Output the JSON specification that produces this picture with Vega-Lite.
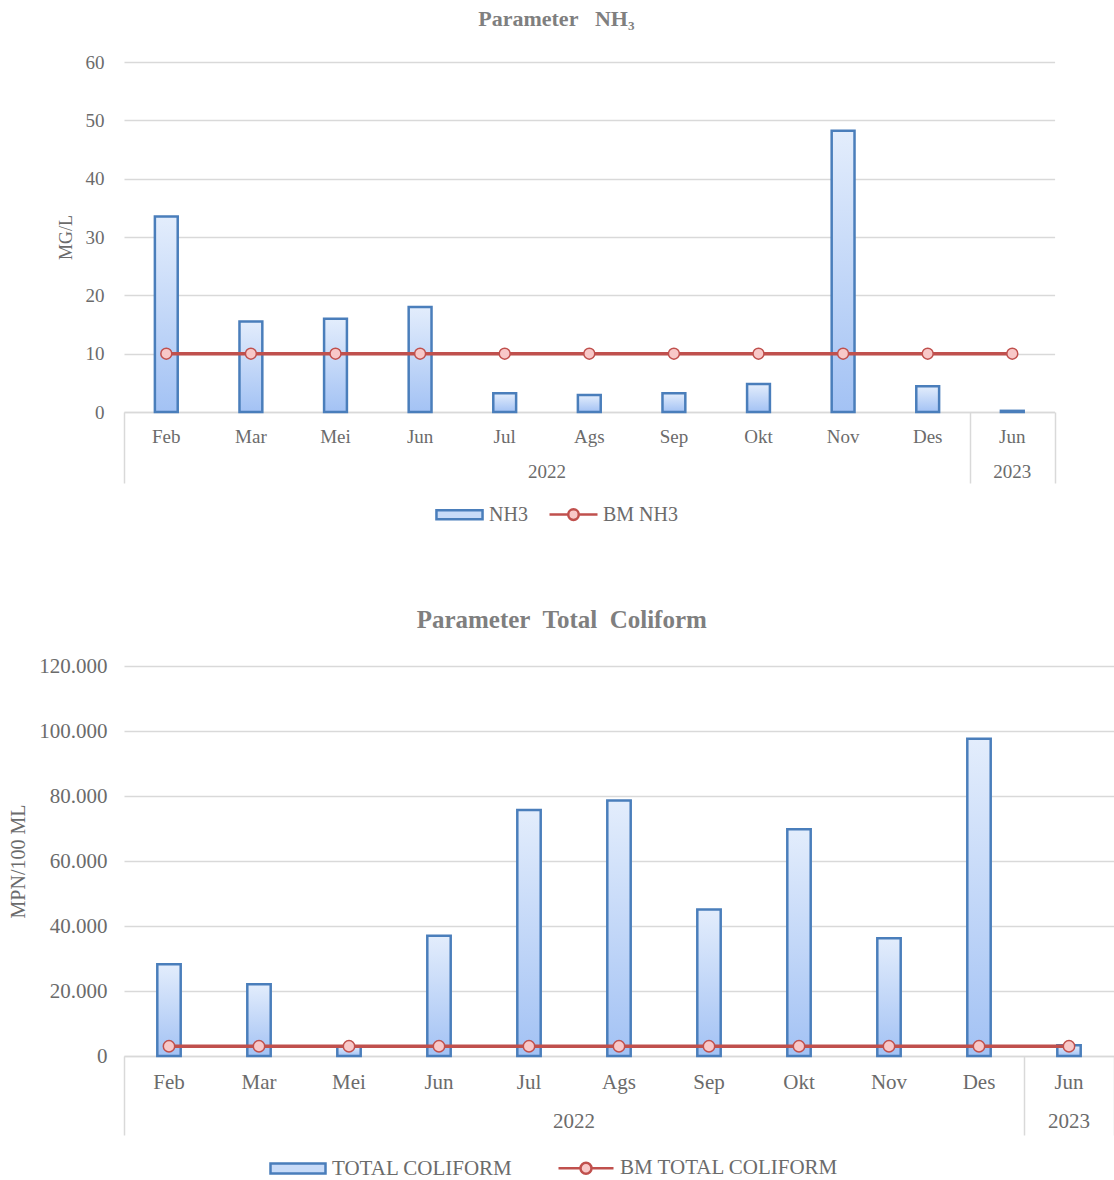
{
  "$schema": "https://vega.github.io/schema/vega-lite/v6.json",
  "background": "white",
  "padding": {"left": 8, "top": 8, "right": 0, "bottom": 0},
  "config": {
    "font": "Liberation Serif",
    "view": {"stroke": null},
    "axis": {
      "labelFont": "Liberation Serif",
      "labelColor": "#6b6b6b",
      "titleFont": "Liberation Serif",
      "titleColor": "#6b6b6b",
      "titleFontWeight": "normal"
    },
    "legend": {
      "labelFont": "Liberation Serif",
      "labelColor": "#6b6b6b",
      "labelLimit": 0,
      "padding": 0
    },
    "title": {
      "font": "Liberation Serif",
      "color": "#7f7f7f",
      "fontWeight": "bold",
      "anchor": "middle",
      "frame": "bounds"
    }
  },
  "datasets": {
    "nh3": [
      {"periode": "Feb 2022", "nilai": 33.5, "baku_mutu": 10},
      {"periode": "Mar 2022", "nilai": 15.5, "baku_mutu": 10},
      {"periode": "Mei 2022", "nilai": 16.0, "baku_mutu": 10},
      {"periode": "Jun 2022", "nilai": 18.0, "baku_mutu": 10},
      {"periode": "Jul 2022", "nilai": 3.2, "baku_mutu": 10},
      {"periode": "Ags 2022", "nilai": 2.9, "baku_mutu": 10},
      {"periode": "Sep 2022", "nilai": 3.2, "baku_mutu": 10},
      {"periode": "Okt 2022", "nilai": 4.8, "baku_mutu": 10},
      {"periode": "Nov 2022", "nilai": 48.2, "baku_mutu": 10},
      {"periode": "Des 2022", "nilai": 4.4, "baku_mutu": 10},
      {"periode": "Jun 2023", "nilai": 0.2, "baku_mutu": 10}
    ],
    "coliform": [
      {"periode": "Feb 2022", "nilai": 28200, "baku_mutu": 3000},
      {"periode": "Mar 2022", "nilai": 22100, "baku_mutu": 3000},
      {"periode": "Mei 2022", "nilai": 3000, "baku_mutu": 3000},
      {"periode": "Jun 2022", "nilai": 37000, "baku_mutu": 3000},
      {"periode": "Jul 2022", "nilai": 75700, "baku_mutu": 3000},
      {"periode": "Ags 2022", "nilai": 78600, "baku_mutu": 3000},
      {"periode": "Sep 2022", "nilai": 45100, "baku_mutu": 3000},
      {"periode": "Okt 2022", "nilai": 69800, "baku_mutu": 3000},
      {"periode": "Nov 2022", "nilai": 36200, "baku_mutu": 3000},
      {"periode": "Des 2022", "nilai": 97600, "baku_mutu": 3000},
      {"periode": "Jun 2023", "nilai": 3300, "baku_mutu": 3000}
    ]
  },
  "vconcat": [
    {
      "data": {"name": "nh3"},
      "title": {"text": "Parameter\u00a0\u00a0 NH₃", "fontSize": 22, "offset": 22},
      "width": {"step": 84.6},
      "height": 350,
      "layer": [
        {
          "mark": {
            "type": "bar",
            "width": {"band": 0.27},
            "strokeWidth": 2.5,
            "fill": {
              "gradient": "linear", "x1": 0, "y1": 0, "x2": 0, "y2": 1,
              "stops": [{"offset": 0, "color": "#e3edfc"}, {"offset": 1, "color": "#a3c2f4"}]
            }
          },
          "encoding": {
            "x": {
              "field": "periode", "type": "nominal", "sort": null,
              "scale": {"paddingInner": 0, "paddingOuter": 0},
              "axis": {
                "orient": "bottom", "title": null, "labelAngle": 0,
                "labelExpr": "split(datum.value, ' ')[0]",
                "ticks": false, "domain": true, "domainColor": "#d9d9d9", "domainWidth": 1.5,
                "labelPadding": 15, "labelFontSize": 19, "grid": false
              }
            },
            "y": {
              "field": "nilai", "type": "quantitative",
              "scale": {"domain": [0, 60], "nice": false},
              "axis": {
                "title": "MG/L", "titleFontSize": 18, "titlePadding": 10,
                "values": [0, 10, 20, 30, 40, 50, 60],
                "domain": false, "ticks": false, "labelPadding": 20, "labelFontSize": 19,
                "grid": true, "gridColor": "#d9d9d9", "gridWidth": 1.5
              }
            },
            "stroke": {
              "datum": "NH3", "type": "nominal",
              "scale": {"domain": ["NH3", "BM NH3"], "range": ["#4a7ebb", "#c0504d"]},
              "legend": {
                "orient": "none", "legendX": 310, "legendY": 427,
                "direction": "horizontal", "title": null,
                "labelFontSize": 20, "symbolSize": 2304, "symbolStrokeWidth": 2.5,
                "labelOffset": 4, "columnPadding": 16,
                "encoding": {
                  "symbols": {
                    "shape": {
                      "condition": {"test": "indexof(datum.value, 'BM') === 0", "value": "M-1,0H-0.22M0.22,0H1M0.22,0A0.22,0.22 0 1 1 -0.22,0A0.22,0.22 0 1 1 0.22,0Z"},
                      "value": "M-0.96,-0.19H0.96V0.19H-0.96Z"
                    },
                    "fill": {
                      "condition": {"test": "indexof(datum.value, 'BM') === 0", "value": "#f8c8c8"},
                      "value": "#c8dbf8"
                    },
                    "strokeWidth": {"value": 2.5}
                  }
                }
              }
            }
          }
        },
        {
          "mark": {"type": "line", "strokeWidth": 3.5},
          "encoding": {
            "x": {
              "field": "periode", "type": "nominal", "sort": null,
              "scale": {"paddingInner": 0, "paddingOuter": 0},
              "axis": {
                "orient": "bottom", "title": null, "labels": false, "domain": false, "grid": false,
                "ticks": true, "tickBand": "extent", "tickSize": 71, "tickColor": "#d9d9d9", "tickWidth": 1.5,
                "tickOpacity": {"condition": {"test": "datum.value == null || datum.value == 'Des 2022' || datum.value == 'Jun 2023'", "value": 1}, "value": 0}
              }
            },
            "y": {
              "field": "baku_mutu", "type": "quantitative",
              "scale": {"domain": [0, 60], "nice": false},
              "axis": {
                "title": "MG/L", "titleFontSize": 18, "titlePadding": 10,
                "values": [0, 10, 20, 30, 40, 50, 60],
                "domain": false, "ticks": false, "labelPadding": 20, "labelFontSize": 19,
                "grid": true, "gridColor": "#d9d9d9", "gridWidth": 1.5
              }
            },
            "stroke": {"datum": "BM NH3", "type": "nominal"}
          }
        },
        {
          "mark": {"type": "point", "filled": true, "fill": "#f8c8c8", "strokeWidth": 1.5, "size": 120, "opacity": 1},
          "encoding": {
            "x": {
              "field": "periode", "type": "nominal", "sort": null,
              "scale": {"paddingInner": 0, "paddingOuter": 0},
              "axis": {
                "orient": "bottom", "title": null, "labelAngle": 0,
                "values": ["Jul 2022", "Jun 2023"],
                "labelExpr": "split(datum.value, ' ')[1]",
                "labelOffset": {"condition": {"test": "datum.value == 'Jul 2022'", "value": 42.3}, "value": 0},
                "ticks": false, "domain": false, "grid": false,
                "labelPadding": 50, "labelFontSize": 19
              }
            },
            "y": {
              "field": "baku_mutu", "type": "quantitative",
              "scale": {"domain": [0, 60], "nice": false},
              "axis": {
                "title": "MG/L", "titleFontSize": 18, "titlePadding": 10,
                "values": [0, 10, 20, 30, 40, 50, 60],
                "domain": false, "ticks": false, "labelPadding": 20, "labelFontSize": 19,
                "grid": true, "gridColor": "#d9d9d9", "gridWidth": 1.5
              }
            },
            "stroke": {"datum": "BM NH3", "type": "nominal"}
          }
        }
      ],
      "resolve": {"axis": {"x": "independent"}}
    },
    {
      "data": {"name": "coliform"},
      "title": {"text": "Parameter\u00a0 Total\u00a0 Coliform", "fontSize": 25, "offset": 22},
      "width": {"step": 90},
      "height": 390,
      "layer": [
        {
          "mark": {
            "type": "bar",
            "width": {"band": 0.26},
            "strokeWidth": 2.5,
            "fill": {
              "gradient": "linear", "x1": 0, "y1": 0, "x2": 0, "y2": 1,
              "stops": [{"offset": 0, "color": "#e3edfc"}, {"offset": 1, "color": "#a3c2f4"}]
            }
          },
          "encoding": {
            "x": {
              "field": "periode", "type": "nominal", "sort": null,
              "scale": {"paddingInner": 0, "paddingOuter": 0},
              "axis": {
                "orient": "bottom", "title": null, "labelAngle": 0,
                "labelExpr": "split(datum.value, ' ')[0]",
                "ticks": false, "domain": true, "domainColor": "#d9d9d9", "domainWidth": 1.5,
                "labelPadding": 15, "labelFontSize": 21, "grid": false
              }
            },
            "y": {
              "field": "nilai", "type": "quantitative",
              "scale": {"domain": [0, 120000], "nice": false},
              "axis": {
                "title": "MPN/100 ML", "titleFontSize": 20, "titlePadding": 10,
                "values": [0, 20000, 40000, 60000, 80000, 100000, 120000],
                "labelExpr": "replace(format(datum.value, ','), ',', '.')",
                "domain": false, "ticks": false, "labelPadding": 17, "labelFontSize": 21,
                "grid": true, "gridColor": "#d9d9d9", "gridWidth": 1.5
              }
            },
            "stroke": {
              "datum": "TOTAL COLIFORM", "type": "nominal",
              "scale": {"domain": ["TOTAL COLIFORM", "BM TOTAL COLIFORM"], "range": ["#4a7ebb", "#c0504d"]},
              "legend": {
                "orient": "none", "legendX": 145, "legendY": 473,
                "direction": "horizontal", "title": null,
                "labelFontSize": 21, "symbolSize": 3025, "symbolStrokeWidth": 2.5,
                "labelOffset": 5, "columnPadding": 40,
                "encoding": {
                  "symbols": {
                    "shape": {
                      "condition": {"test": "indexof(datum.value, 'BM') === 0", "value": "M-1,0H-0.2M0.2,0H1M0.2,0A0.2,0.2 0 1 1 -0.2,0A0.2,0.2 0 1 1 0.2,0Z"},
                      "value": "M-1,-0.18H1V0.18H-1Z"
                    },
                    "fill": {
                      "condition": {"test": "indexof(datum.value, 'BM') === 0", "value": "#f8c8c8"},
                      "value": "#c8dbf8"
                    },
                    "strokeWidth": {"value": 2.5}
                  }
                }
              }
            }
          }
        },
        {
          "mark": {"type": "line", "strokeWidth": 3.5},
          "encoding": {
            "x": {
              "field": "periode", "type": "nominal", "sort": null,
              "scale": {"paddingInner": 0, "paddingOuter": 0},
              "axis": {
                "orient": "bottom", "title": null, "labels": false, "domain": false, "grid": false,
                "ticks": true, "tickBand": "extent", "tickSize": 79, "tickColor": "#d9d9d9", "tickWidth": 1.5,
                "tickOpacity": {"condition": {"test": "datum.value == null || datum.value == 'Des 2022' || datum.value == 'Jun 2023'", "value": 1}, "value": 0}
              }
            },
            "y": {
              "field": "baku_mutu", "type": "quantitative",
              "scale": {"domain": [0, 120000], "nice": false},
              "axis": {
                "title": "MPN/100 ML", "titleFontSize": 20, "titlePadding": 10,
                "values": [0, 20000, 40000, 60000, 80000, 100000, 120000],
                "labelExpr": "replace(format(datum.value, ','), ',', '.')",
                "domain": false, "ticks": false, "labelPadding": 17, "labelFontSize": 21,
                "grid": true, "gridColor": "#d9d9d9", "gridWidth": 1.5
              }
            },
            "stroke": {"datum": "BM TOTAL COLIFORM", "type": "nominal"}
          }
        },
        {
          "mark": {"type": "point", "filled": true, "fill": "#f8c8c8", "strokeWidth": 1.5, "size": 130, "opacity": 1},
          "encoding": {
            "x": {
              "field": "periode", "type": "nominal", "sort": null,
              "scale": {"paddingInner": 0, "paddingOuter": 0},
              "axis": {
                "orient": "bottom", "title": null, "labelAngle": 0,
                "values": ["Jul 2022", "Jun 2023"],
                "labelExpr": "split(datum.value, ' ')[1]",
                "labelOffset": {"condition": {"test": "datum.value == 'Jul 2022'", "value": 45}, "value": 0},
                "ticks": false, "domain": false, "grid": false,
                "labelPadding": 54, "labelFontSize": 21
              }
            },
            "y": {
              "field": "baku_mutu", "type": "quantitative",
              "scale": {"domain": [0, 120000], "nice": false},
              "axis": {
                "title": "MPN/100 ML", "titleFontSize": 20, "titlePadding": 10,
                "values": [0, 20000, 40000, 60000, 80000, 100000, 120000],
                "labelExpr": "replace(format(datum.value, ','), ',', '.')",
                "domain": false, "ticks": false, "labelPadding": 17, "labelFontSize": 21,
                "grid": true, "gridColor": "#d9d9d9", "gridWidth": 1.5
              }
            },
            "stroke": {"datum": "BM TOTAL COLIFORM", "type": "nominal"}
          }
        }
      ],
      "resolve": {"axis": {"x": "independent"}}
    }
  ],
  "spacing": 83,
  "resolve": {"scale": {"stroke": "independent"}, "legend": {"stroke": "independent"}}
}
